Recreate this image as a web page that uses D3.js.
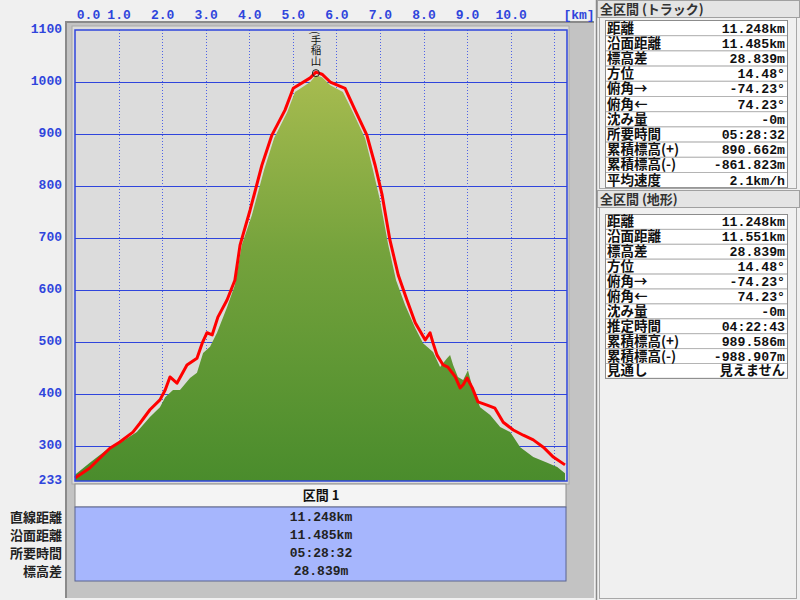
<!DOCTYPE html>
<html>
<head>
<meta charset="utf-8">
<script src="https://cdn.jsdelivr.net/npm/d3@7"></script>
<style>
  body { margin: 0; background: #f0f0f0; }
  svg { display: block; }
  .num { font-family: "Liberation Mono", "DejaVu Sans Mono", monospace; font-weight: bold; }
  .jp { font-family: "Noto Sans CJK JP", sans-serif; font-weight: bold; }
</style>
</head>
<body>
<div id="profile"></div>
<script>
// track (red line): distance km, elevation m
const trackKm = [0.00, 0.34, 0.80, 1.03, 1.33, 1.49, 1.72, 1.95, 2.07, 2.18, 2.34, 2.57, 2.80, 2.92, 3.03, 3.15, 3.28, 3.49, 3.67, 3.79, 4.02, 4.29, 4.52, 4.82, 5.01, 5.40, 5.53, 5.67, 5.86, 6.20, 6.43, 6.70, 6.89, 7.05, 7.23, 7.42, 7.62, 7.81, 7.97, 8.04, 8.15, 8.22, 8.31, 8.45, 8.56, 8.73, 8.84, 8.91, 9.00, 9.12, 9.25, 9.46, 9.64, 9.83, 10.06, 10.29, 10.52, 10.75, 10.98, 11.248];
const trackElev = [239, 258, 296, 308, 327, 344, 370, 389, 408, 433, 421, 456, 469, 498, 518, 514, 548, 581, 619, 687, 754, 840, 898, 946, 988, 1008, 1019, 1015, 1000, 988, 946, 898, 840, 783, 696, 629, 581, 537, 514, 504, 518, 498, 475, 456, 452, 433, 412, 418, 431, 412, 385, 379, 373, 346, 331, 321, 312, 298, 279, 264];

// terrain (green area): distance km, elevation m
const terrainKm = [0.00, 0.34, 0.80, 1.03, 1.42, 1.72, 1.95, 2.07, 2.25, 2.41, 2.64, 2.80, 2.94, 3.10, 3.26, 3.49, 3.67, 3.83, 4.06, 4.34, 4.57, 4.87, 5.05, 5.40, 5.53, 5.67, 5.86, 6.15, 6.38, 6.66, 6.84, 7.00, 7.19, 7.37, 7.58, 7.81, 7.99, 8.22, 8.38, 8.54, 8.61, 8.68, 8.79, 8.91, 9.02, 9.12, 9.30, 9.53, 9.76, 9.99, 10.22, 10.52, 10.84, 11.07, 11.248];
const terrainElev = [245, 268, 298, 306, 327, 356, 375, 394, 408, 408, 431, 441, 479, 491, 518, 567, 610, 687, 744, 831, 892, 942, 981, 1000, 1013, 1009, 994, 981, 942, 892, 831, 773, 687, 619, 571, 527, 498, 481, 452, 469, 475, 456, 433, 427, 446, 414, 375, 360, 337, 327, 298, 279, 268, 260, 248];

const kmTicks = [0, 1, 2, 3, 4, 5, 6, 7, 8, 9, 10];
const elevTicks = [233, 300, 400, 500, 600, 700, 800, 900, 1000, 1100];
const peakName = "(手稲山";
const peakKm = 5.53;
const peakElev = 1019;

const trackLabels = ["距離", "沿面距離", "標高差", "方位", "俯角→", "俯角←", "沈み量", "所要時間", "累積標高(+)", "累積標高(-)", "平均速度"];
const trackValues = ["11.248km", "11.485km", "28.839m", "14.48°", "-74.23°", "74.23°", "-0m", "05:28:32", "890.662m", "-861.823m", "2.1km/h"];
const terrainLabels = ["距離", "沿面距離", "標高差", "方位", "俯角→", "俯角←", "沈み量", "推定時間", "累積標高(+)", "累積標高(-)", "見通し"];
const terrainValues = ["11.248km", "11.551km", "28.839m", "14.48°", "-74.23°", "74.23°", "-0m", "04:22:43", "989.586m", "-988.907m", "見えません"];

const sectionLabels = ["直線距離", "沿面距離", "所要時間", "標高差"];
const sectionValues = ["11.248km", "11.485km", "05:28:32", "28.839m"];

const width = 800, height = 600;
const blue = "#2f45dc";

const svg = d3.select("#profile").append("svg")
  .attr("width", width).attr("height", height);

/* left gray panel + plot background */
svg.append("rect").attr("x", 66).attr("y", 22).attr("width", 528).attr("height", 576)
  .attr("fill", "#c3c3c3");
svg.append("path").attr("d", "M66,598V22H594").attr("fill", "none").attr("stroke", "#8a8a8a").attr("stroke-width", 2);
svg.append("rect").attr("x", 72).attr("y", 26).attr("width", 497).attr("height", 458)
  .attr("fill", "#dcdcdc").attr("stroke", "#a8a8a8");

/* scales */
const xScale = d3.scaleLinear().domain([0, 11.248]).range([75, 565]);
const yScale = d3.scaleLinear().domain([233, 1100]).range([481, 30]);

/* grid */
svg.append("g").selectAll("line").data(elevTicks.filter(d => d > 233 && d < 1100)).join("line")
  .attr("x1", 75).attr("x2", 567)
  .attr("y1", d => Math.round(yScale(d)) + 0.5).attr("y2", d => Math.round(yScale(d)) + 0.5)
  .attr("stroke", blue).attr("stroke-width", 1);
svg.append("g").selectAll("line").data(d3.range(1, 12)).join("line")
  .attr("x1", d => Math.round(xScale(d)) + 0.5).attr("x2", d => Math.round(xScale(d)) + 0.5)
  .attr("y1", 30).attr("y2", 481)
  .attr("stroke", "#4e62e6").attr("stroke-width", 1).attr("stroke-dasharray", "1,2");

/* terrain area */
const grad = svg.append("defs").append("linearGradient").attr("id", "terrainFill")
  .attr("gradientUnits", "userSpaceOnUse").attr("x1", 0).attr("x2", 0)
  .attr("y1", yScale(1020)).attr("y2", yScale(233));
grad.append("stop").attr("offset", "0%").attr("stop-color", "#a8bc50");
grad.append("stop").attr("offset", "45%").attr("stop-color", "#74a23c");
grad.append("stop").attr("offset", "100%").attr("stop-color", "#4a8c2c");

const terrain = terrainKm.map((k, i) => ({ km: k, elev: terrainElev[i] }));
const track = trackKm.map((k, i) => ({ km: k, elev: trackElev[i] }));

svg.append("path").datum(terrain)
  .attr("d", d3.area().x(d => xScale(d.km)).y0(yScale(233)).y1(d => yScale(d.elev)))
  .attr("fill", "url(#terrainFill)");

svg.append("path").datum(track)
  .attr("d", d3.line().x(d => xScale(d.km)).y(d => yScale(d.elev)))
  .attr("fill", "none").attr("stroke", "#ff0000").attr("stroke-width", 3)
  .attr("stroke-linejoin", "round");

/* plot frame */
svg.append("rect").attr("x", 75).attr("y", 30).attr("width", 492).attr("height", 451)
  .attr("fill", "none").attr("stroke", blue).attr("stroke-width", 1.5);

/* peak label (vertical text) */
svg.append("circle").attr("cx", xScale(peakKm)).attr("cy", yScale(peakElev) + 1).attr("r", 3.5)
  .attr("fill", "none").attr("stroke", "#222").attr("stroke-width", 1);
svg.append("text")
  .attr("x", xScale(peakKm)).attr("y", 31)
  .style("writing-mode", "vertical-rl")
  .attr("font-family", "Noto Sans CJK JP").attr("font-size", 10.5)
  .attr("fill", "#111").text(peakName);

/* axes */
const topAxis = d3.axisTop(xScale).tickValues(kmTicks).tickFormat(d3.format(".1f")).tickSize(0).tickPadding(0);
const gTop = svg.append("g").attr("transform", "translate(0,19)").call(topAxis);
gTop.select(".domain").remove();
gTop.selectAll("text").attr("class", "num").attr("font-size", 13).attr("fill", blue)
  .attr("dx", d => d === 0 ? 13 : 0);
svg.append("text").attr("class", "num").attr("x", 579).attr("y", 19).attr("text-anchor", "middle")
  .attr("font-size", 13).attr("fill", blue).text("[km]");

const leftAxis = d3.axisLeft(yScale).tickValues(elevTicks).tickFormat(d3.format("d")).tickSize(0).tickPadding(0);
const gLeft = svg.append("g").attr("transform", "translate(62,-2)").call(leftAxis);
gLeft.select(".domain").remove();
gLeft.selectAll("text").attr("class", "num").attr("font-size", 13).attr("fill", blue);

/* section table under the chart */
svg.append("rect").attr("x", 75).attr("y", 484).attr("width", 491).attr("height", 23)
  .attr("fill", "#f4f4f4").attr("stroke", "#8c8c8c");
svg.append("text").attr("class", "jp").attr("x", 321).attr("y", 500).attr("text-anchor", "middle")
  .attr("font-size", 13).attr("fill", "#111").text("区間 1");
svg.append("rect").attr("x", 75).attr("y", 507).attr("width", 491).attr("height", 74)
  .attr("fill", "#a6b6fd").attr("stroke", "#5a6490");
svg.append("text").attr("class", "num").attr("text-anchor", "middle")
  .attr("font-size", 13).attr("fill", "#222")
  .selectAll("tspan").data(sectionValues).join("tspan")
  .attr("x", 321).attr("y", (d, i) => 521 + i * 18).text(d => d);
svg.append("text").attr("class", "jp").attr("text-anchor", "end")
  .attr("font-size", 13).attr("fill", "#222")
  .selectAll("tspan").data(sectionLabels).join("tspan")
  .attr("x", 62).attr("y", (d, i) => 522 + i * 18).text(d => d);

/* right side info panels */
svg.append("line").attr("x1", 596.5).attr("x2", 596.5).attr("y1", 0).attr("y2", 600)
  .attr("stroke", "#8a8a8a").attr("stroke-width", 1.5);

const drawPanel = (title, labels, values, top, rowTop, rowH, bottom) => {
  svg.append("rect").attr("x", 599.5).attr("y", top + 17.5).attr("width", 197).attr("height", bottom - top - 18)
    .attr("fill", "none").attr("stroke", "#a8a8a8");
  svg.append("rect").attr("x", 597.5).attr("y", top + 0.5).attr("width", 202).attr("height", 17)
    .attr("fill", "#e4e4e4").attr("stroke", "#a0a0a0");
  svg.append("text").attr("class", "jp").attr("x", 600).attr("y", top + 13.5)
    .attr("font-size", 13).attr("font-weight", "normal").attr("fill", "#333").text(title);

  const rows = svg.append("g");
  rows.selectAll("rect").data(labels).join("rect")
    .attr("x", 605.5).attr("y", (d, i) => rowTop + i * rowH + 0.5)
    .attr("width", 182).attr("height", rowH)
    .attr("fill", "#ffffff").attr("stroke", "#b4b4b4");
  rows.append("rect").attr("x", 605.5).attr("y", rowTop + 0.5).attr("width", 182).attr("height", rowH * labels.length)
    .attr("fill", "none").attr("stroke", "#8c8c8c");

  // labels and values as one multi-line text block each
  rows.append("text").attr("class", "jp").attr("font-size", 13.5).attr("fill", "#111")
    .selectAll("tspan").data(labels).join("tspan")
    .attr("x", 607).attr("y", (d, i) => rowTop + i * rowH + rowH / 2 + 5).text(d => d);
  rows.append("text").attr("class", "num").attr("text-anchor", "end").attr("font-size", 13.2).attr("fill", "#111")
    .selectAll("tspan").data(values).join("tspan")
    .attr("font-family", d => /[ぁ-んァ-ン一-龥]/.test(d) ? "Noto Sans CJK JP" : null)
    .attr("x", 785).attr("y", (d, i) => rowTop + i * rowH + rowH / 2 + 5).text(d => d);
};

drawPanel("全区間 (トラック)", trackLabels, trackValues, 0, 20, 15.2, 189);
drawPanel("全区間 (地形)", terrainLabels, terrainValues, 190, 214, 14.9, 599);
</script>
</body>
</html>
